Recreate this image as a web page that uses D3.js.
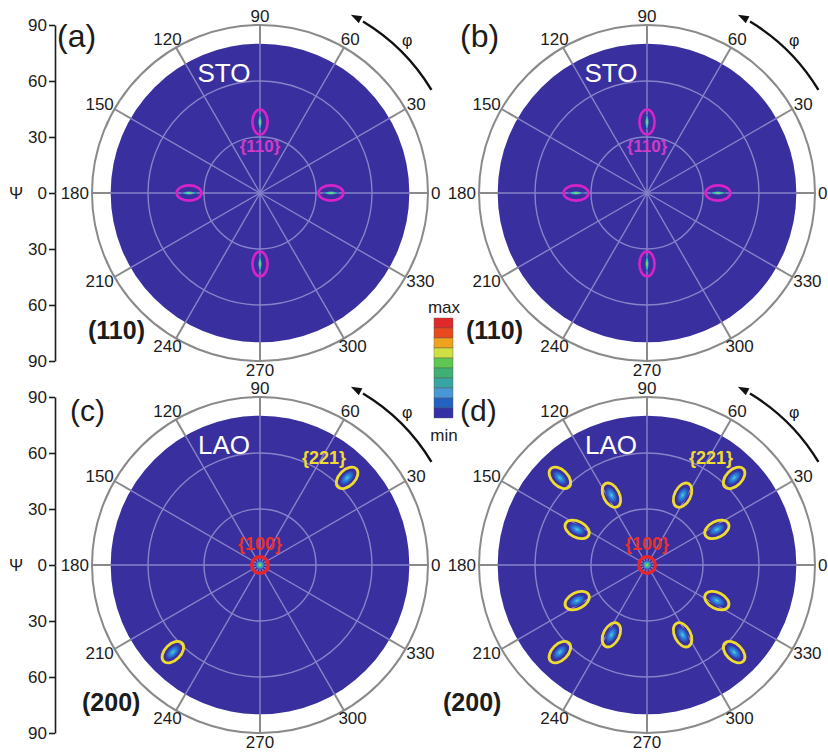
<!DOCTYPE html>
<html>
<head>
<meta charset="utf-8">
<script src="https://cdn.jsdelivr.net/npm/d3@7"></script>
<style>
  html, body { margin: 0; padding: 0; background: #ffffff; }
  svg text { font-family: "Liberation Sans", Arial, Helvetica, sans-serif; }
</style>
</head>
<body>
<svg id="chart" width="828" height="754"></svg>
<script>
// ---- data ----
const phiTicks = [0, 30, 60, 90, 120, 150, 180, 210, 240, 270, 300, 330];
const psiAxisTicks = [0, 30, 60, 90];
const psiGrid = [30, 60];
const psiMax = 90;          // outer circle
const psiMeasured = 80;     // extent of measured (coloured) area

// STO (110) reflections
const stoPhi = [0, 90, 180, 270];
const stoPsi = [38, 38, 38, 38];

// LAO {100} reflection at the pole
const lao100Phi = [0];
const lao100Psi = [0];

// LAO {221} reflections, panel (c)
const lao221cPhi = [45, 225];
const lao221cPsi = [66, 66];

// LAO {221} reflections, panel (d)
const lao221dPhi = [27, 45, 63, 117, 135, 153, 207, 225, 243, 297, 315, 333];
const lao221dPsi = [42, 66, 42, 42, 66, 42, 42, 66, 42, 42, 66, 42];

// colour scale, max -> min
const cbarColors = ["#e02a2a", "#e84a1c", "#f0a21e", "#cfe142", "#5ec752",
                    "#3fb074", "#37a6a2", "#4898d6", "#2362c0", "#3232a6"];
const cbarLabels = ["max", "min"];

// ---- drawing ----
const svg = d3.select("#chart");
const R = 168;
const rScale = d3.scaleLinear().domain([0, psiMax]).range([0, R]);
const diskColor = "#3a2f9e";
const gridColor = "#8783c9";
const ringColor = "#8a8a8a";
const rad = d => d * Math.PI / 180;

const defs = svg.append("defs");
const core = defs.append("radialGradient").attr("id", "core");
[[0, "#5fd0c8"], [0.3, "#2f94e0"], [0.7, "#2a60c6"], [1, "#3a2f9e"]]
  .forEach(([o, c]) => core.append("stop").attr("offset", o).attr("stop-color", c));
const streak = defs.append("radialGradient").attr("id", "streak");
[[0, "#c8e04a"], [0.45, "#44c4a4"], [0.8, "#3a8ad0"], [1, "#3a2f9e"]]
  .forEach(([o, c]) => streak.append("stop").attr("offset", o).attr("stop-color", c));
const dot = defs.append("radialGradient").attr("id", "dot");
[[0, "#d8e040"], [0.35, "#44c088"], [0.75, "#3a86d4"], [1, "#3a2f9e"]]
  .forEach(([o, c]) => dot.append("stop").attr("offset", o).attr("stop-color", c));

const panels = [
  { cx: 260, cy: 193, tag: "(a)", tagX: 57, tagY: 47, tagSize: 32, phase: "STO", refl: "(110)", reflX: 88, axis: true, kind: "sto" },
  { cx: 647, cy: 193, tag: "(b)", tagX: 460, tagY: 47, tagSize: 32, phase: "STO", refl: "(110)", reflX: 466, axis: false, kind: "sto" },
  { cx: 260, cy: 565, tag: "(c)", tagX: 70, tagY: 421, tagSize: 30, phase: "LAO", refl: "(200)", reflX: 82, axis: true, kind: "laoC" },
  { cx: 647, cy: 565, tag: "(d)", tagX: 460, tagY: 421, tagSize: 30, phase: "LAO", refl: "(200)", reflX: 443, axis: false, kind: "laoD" }
];

function pos(phi, psi) {
  const r = rScale(psi);
  return [r * Math.cos(rad(phi)), -r * Math.sin(rad(phi))];
}

panels.forEach(p => {
  const g = svg.append("g").attr("transform", `translate(${p.cx},${p.cy})`);

  // outer circle (psi = 90)
  g.append("circle").attr("r", rScale(psiMax)).attr("fill", "#fff")
    .attr("stroke", ringColor).attr("stroke-width", 2);

  // spokes over the white ring
  g.selectAll("line.outer").data(phiTicks).join("line")
    .attr("x1", d => pos(d, psiMeasured)[0]).attr("y1", d => pos(d, psiMeasured)[1])
    .attr("x2", d => pos(d, psiMax)[0]).attr("y2", d => pos(d, psiMax)[1])
    .attr("stroke", ringColor).attr("stroke-width", 2);

  // measured area
  g.append("circle").attr("r", rScale(psiMeasured)).attr("fill", diskColor);

  // grid over the measured area
  g.selectAll("circle.grid").data(psiGrid).join("circle")
    .attr("r", d => rScale(d)).attr("fill", "none")
    .attr("stroke", gridColor).attr("stroke-width", 1.4);
  g.selectAll("line.inner").data(phiTicks).join("line")
    .attr("x1", 0).attr("y1", 0)
    .attr("x2", d => pos(d, psiMeasured)[0]).attr("y2", d => pos(d, psiMeasured)[1])
    .attr("stroke", gridColor).attr("stroke-width", 1.4);

  // reflections
  if (p.kind === "sto") {
    const spots = stoPhi.map((phi, i) => ({ phi, psi: stoPsi[i] }));
    const s = g.selectAll("g.spot").data(spots).join("g")
      .attr("transform", d => `translate(${pos(d.phi, d.psi)}) rotate(${-d.phi})`);
    s.append("ellipse").attr("rx", 7.5).attr("ry", 1.8).attr("fill", "url(#streak)");
    s.append("ellipse").attr("rx", 12.5).attr("ry", 7.6).attr("fill", "none")
      .attr("stroke", "#d624c8").attr("stroke-width", 2.6);
    g.append("text").attr("x", 0).attr("y", -41).attr("text-anchor", "middle")
      .attr("font-size", 17).attr("font-weight", "bold").attr("fill", "#d03cc8")
      .text("{110}");
  } else {
    const phis = p.kind === "laoC" ? lao221cPhi : lao221dPhi;
    const psis = p.kind === "laoC" ? lao221cPsi : lao221dPsi;
    const spots = phis.map((phi, i) => ({ phi, psi: psis[i] }));
    const s = g.selectAll("g.spot").data(spots).join("g")
      .attr("transform", d => `translate(${pos(d.phi, d.psi)}) rotate(${-d.phi})`);
    s.append("ellipse").attr("rx", 9).attr("ry", 5).attr("fill", "url(#core)");
    s.append("ellipse").attr("rx", 13).attr("ry", 8).attr("fill", "none")
      .attr("stroke", "#efdc2e").attr("stroke-width", 2.8);

    const c = g.selectAll("g.pole").data(lao100Phi.map((phi, i) => ({ phi, psi: lao100Psi[i] })))
      .join("g").attr("transform", d => `translate(${pos(d.phi, d.psi)})`);
    c.append("circle").attr("r", 4.5).attr("fill", "url(#dot)");
    c.append("circle").attr("r", 8.3).attr("fill", "none")
      .attr("stroke", "#e8262a").attr("stroke-width", 3.4);

    g.append("text").attr("x", 0).attr("y", -15).attr("text-anchor", "middle")
      .attr("font-size", 18).attr("font-weight", "bold").attr("fill", "#e8302c")
      .text("{100}");
    g.append("text").attr("x", 64).attr("y", -101).attr("text-anchor", "middle")
      .attr("font-size", 18).attr("font-weight", "bold").attr("fill", "#f0dc30")
      .text("{221}");
  }

  // phase name
  g.append("text").attr("x", -36).attr("y", -111).attr("text-anchor", "middle")
    .attr("font-size", 26).attr("fill", "#ffffff").text(p.phase);

  // phi labels
  g.selectAll("text.phi").data(phiTicks).join("text")
    .attr("font-size", 17).attr("fill", "#1c1c1c")
    .attr("text-anchor", "middle").attr("dominant-baseline", "central")
    .text(d => d)
    .each(function (d) {
      const w = this.getComputedTextLength();
      const [ex, ey] = pos(d, psiMax);
      const c = Math.cos(rad(d)), sn = Math.sin(rad(d));
      d3.select(this)
        .attr("x", ex + c * (w / 2 + 3))
        .attr("y", ey - sn * (6 + 3));
    });

  // phi direction arrow
  const ar = 200, a0 = 31, a1 = 63;
  const path = d3.path();
  path.arc(0, 0, ar, -rad(a0), -rad(a1 - 4), true);
  g.append("path").attr("d", path.toString()).attr("fill", "none")
    .attr("stroke", "#111").attr("stroke-width", 2.4);
  const tip = [ar * Math.cos(rad(a1)), -ar * Math.sin(rad(a1))];
  const tan = [-Math.sin(rad(a1)), -Math.cos(rad(a1))];
  const nor = [Math.cos(rad(a1)), -Math.sin(rad(a1))];
  const L = 11, W = 4;
  const head = [
    tip,
    [tip[0] - tan[0] * L + nor[0] * W, tip[1] - tan[1] * L + nor[1] * W],
    [tip[0] - tan[0] * L - nor[0] * W, tip[1] - tan[1] * L - nor[1] * W]
  ];
  g.append("path").attr("d", d3.line()(head) + "Z").attr("fill", "#111");
  const phiPos = [212 * Math.cos(rad(46)), -212 * Math.sin(rad(46))];
  g.append("text").attr("x", phiPos[0]).attr("y", phiPos[1])
    .attr("text-anchor", "middle").attr("dominant-baseline", "central")
    .attr("font-size", 16).attr("fill", "#111").text("φ");

  // panel tag and reflection
  svg.append("text").attr("x", p.tagX).attr("y", p.tagY)
    .attr("font-size", p.tagSize).attr("fill", "#1c1c1c").text(p.tag);
  svg.append("text").attr("x", p.reflX).attr("y", p.cy + 146)
    .attr("font-size", 25).attr("font-weight", "bold").attr("fill", "#1c1c1c").text(p.refl);

  // psi axis
  if (p.axis) {
    const yUp = d3.scaleLinear().domain([0, psiMax]).range([p.cy, p.cy - R]);
    const yDown = d3.scaleLinear().domain([0, psiMax]).range([p.cy, p.cy + R]);
    const ax = 55;
    [yUp, yDown].forEach((sc, i) => {
      const a = svg.append("g").attr("transform", `translate(${ax},0)`)
        .call(d3.axisLeft(sc).tickValues(i === 0 ? psiAxisTicks : psiAxisTicks.slice(1))
          .tickSize(6).tickSizeOuter(0).tickPadding(2));
      a.select(".domain").attr("stroke", "#1c1c1c").attr("stroke-width", 1.6);
      a.selectAll(".tick line").attr("stroke", "#1c1c1c").attr("stroke-width", 1.6);
      a.selectAll(".tick text").attr("font-size", 17).attr("fill", "#1c1c1c")
        .attr("font-family", "Liberation Sans, Arial, sans-serif");
    });
    svg.append("text").attr("x", 16).attr("y", p.cy).attr("dominant-baseline", "central")
      .attr("text-anchor", "middle").attr("font-size", 17).attr("fill", "#1c1c1c").text("Ψ");
  }
});

// colour bar
const cbY = d3.scaleBand().domain(d3.range(cbarColors.length)).range([318, 418]).padding(0);
const cb = svg.append("g");
cb.selectAll("rect").data(cbarColors).join("rect")
  .attr("x", 434).attr("width", 19)
  .attr("y", (d, i) => cbY(i)).attr("height", cbY.bandwidth())
  .attr("fill", d => d).attr("stroke", "#555").attr("stroke-width", 0.4);
cb.append("text").attr("x", 444).attr("y", 313).attr("text-anchor", "middle")
  .attr("font-size", 17).attr("fill", "#1c1c1c").text(cbarLabels[0]);
cb.append("text").attr("x", 444).attr("y", 441).attr("text-anchor", "middle")
  .attr("font-size", 17).attr("fill", "#1c1c1c").text(cbarLabels[1]);
</script>
</body>
</html>
